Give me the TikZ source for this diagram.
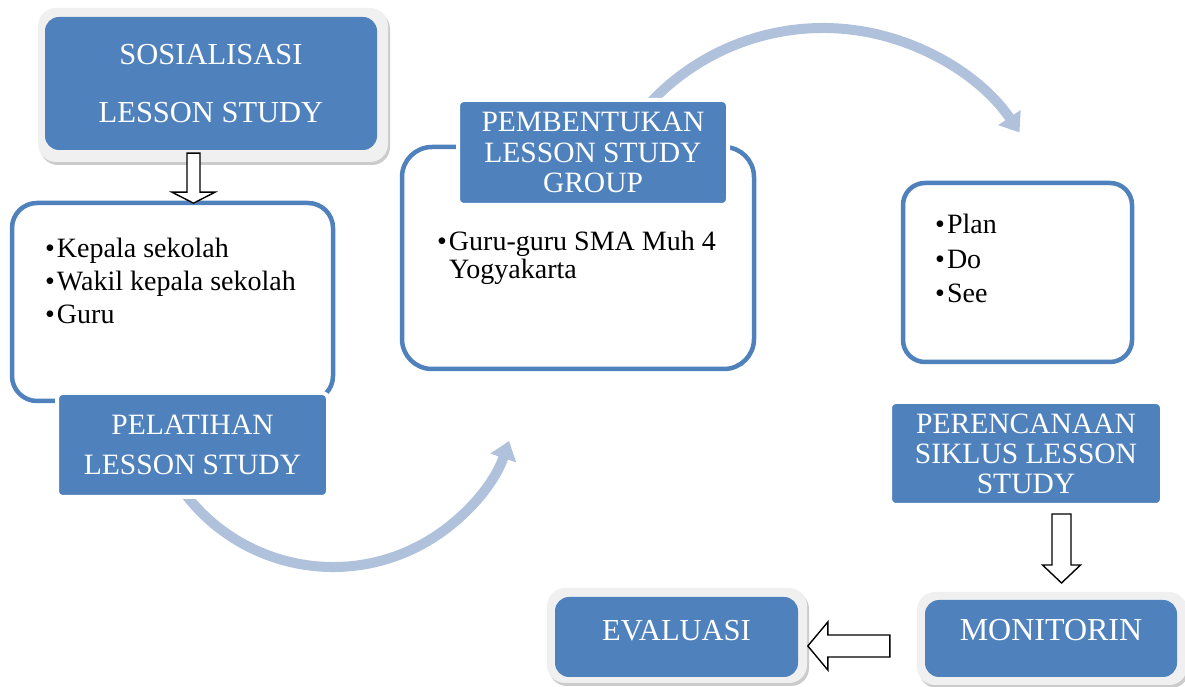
\documentclass[tikz,border=0pt]{standalone}
\usepackage{fontspec}
\setmainfont{Liberation Serif}
\usetikzlibrary{shadows,calc,arrows.meta}
\definecolor{hblue}{RGB}{79,129,189}
\definecolor{arcblue}{RGB}{176,193,220}
\definecolor{framegray}{RGB}{240,240,240}
\tikzset{
 hdr/.style={fill=hblue, text=white, rounded corners=6pt, draw=white, line width=4pt, align=center, inner sep=0pt},
 outlinebox/.style={draw=hblue, line width=4.5pt, fill=white, rounded corners=#1, inner sep=0pt},
 grayframe/.style={fill=framegray, rounded corners=18pt, inner sep=0pt,
   drop shadow={shadow xshift=2pt, shadow yshift=-3pt, opacity=0.45, fill=black!45}},
 bluebox/.style={fill=hblue, text=white, rounded corners=14pt, inner sep=0pt},
 listtext/.style={align=left, inner sep=0pt, anchor=north west},
 hollowarrow/.style={draw=black, line width=1.4pt, fill=white, line join=miter},
 curv/.style={draw=arcblue, line width=10pt, -{Triangle[length=18pt,width=26pt]}},
}
\begin{document}
\begin{tikzpicture}[x=1pt,y=1pt]
\useasboundingbox (0,0) rectangle (1185,687);
% curved arrows (behind boxes)
\coordinate (c1) at (333,306);
\coordinate (c2) at (823,422);
\draw[curv] ($(c1)+(-150:186)$) arc[start angle=-150, end angle=-18.8, radius=186];
\draw[curv] ($(c2)+(140:237)$) arc[start angle=140, end angle=34, radius=237];

% SOSIALISASI
\node[grayframe, minimum width=350pt, minimum height=154pt] (sosframe) at (213,602) {};
\node[bluebox, align=center, minimum width=332pt, minimum height=133pt, font=\fontsize{30.5}{58}\selectfont] (sos) at (211,603.5) {SOSIALISASI\\LESSON STUDY};

% Kepala box
\node[outlinebox=25pt, minimum width=321pt, minimum height=198pt] (kep) at (172.5,385) {};
\node[listtext, font=\fontsize{28}{33}\selectfont] (keptext) at (45,448.8) {\textbullet\kern2pt Kepala sekolah\\\textbullet\kern2pt Wakil kepala sekolah\\\textbullet\kern2pt Guru};

% PELATIHAN
\node[hdr, minimum width=271pt, minimum height=104pt, font=\fontsize{29.5}{40}\selectfont] (pel) at (192.5,242) {PELATIHAN\\LESSON STUDY};

% PEMBENTUKAN
\node[outlinebox=30pt, minimum width=352pt, minimum height=222pt] (pembox) at (578,429) {};
\node[hdr, minimum width=270pt, minimum height=105pt, font=\fontsize{29.5}{30.5}\selectfont] (pem) at (593,534.5) {PEMBENTUKAN\\LESSON STUDY\\GROUP};
\node[listtext, font=\fontsize{28}{28}\selectfont] (pemtext) at (437,455.8) {\textbullet\kern2pt Guru-guru SMA Muh 4\\\hphantom{\textbullet\kern2pt}Yogyakarta};

% Plan Do See
\node[outlinebox=22pt, minimum width=229pt, minimum height=179pt] (pds) at (1017.5,414.5) {};
\node[listtext, font=\fontsize{28}{34.5}\selectfont] (pdstext) at (935,472.8) {\textbullet\kern2pt Plan\\\textbullet\kern2pt Do\\\textbullet\kern2pt See};

% PERENCANAAN
\node[hdr, minimum width=272pt, minimum height=103pt, font=\fontsize{29.5}{30}\selectfont] (per) at (1026,233.5) {PERENCANAAN\\SIKLUS LESSON\\STUDY};

% MONITORIN
\node[grayframe, minimum width=270pt, minimum height=93pt] (monframe) at (1052,48.5) {};
\node[bluebox, minimum width=252pt, minimum height=77pt, font=\fontsize{32}{36}\selectfont, text depth=18pt] (mon) at (1051,48.5) {MONITORIN};

% EVALUASI
\node[grayframe, minimum width=260pt, minimum height=95pt] (evaframe) at (677,51.5) {};
\node[bluebox, minimum width=243pt, minimum height=80pt, font=\fontsize{30.5}{36}\selectfont, text depth=14pt] (eva) at (676.5,50) {EVALUASI};

% hollow block arrows
\draw[hollowarrow] ($(sos.south)+(-24,-3)$) -- ++(0,-39) -- ++(-15,0) -- ++(21.5,-11) -- ++(21.5,11) -- ++(-15,0) -- ++(0,39) -- cycle;
\draw[hollowarrow] ($(per.south)+(26,-7)$) -- ++(0,-51) -- ++(-9.5,0) -- ++(19,-18) -- ++(19,18) -- ++(-9.5,0) -- ++(0,51) -- cycle;
\draw[hollowarrow] ($(monframe.west)+(-27,3.5)$) -- ++(-62,0) -- ++(0,13) -- ++(-20,-24) -- ++(20,-24) -- ++(0,13) -- ++(62,0) -- cycle;
\end{tikzpicture}
\end{document}
